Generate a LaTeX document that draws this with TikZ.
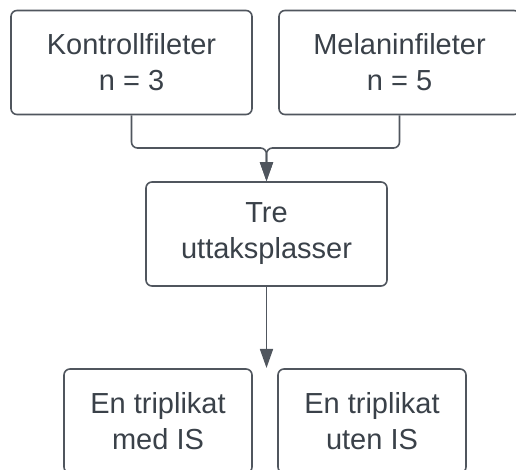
\documentclass[tikz,border=0pt]{standalone}
\usepackage{fontspec}
\setmainfont{Liberation Sans}
\usetikzlibrary{arrows.meta}
\definecolor{txtgray}{HTML}{3A4149}
\definecolor{linegray}{HTML}{50565E}
\tikzset{
  box/.style={draw=linegray, line width=1.6pt, rounded corners=6pt, fill=white,
    minimum width=#1, minimum height=104pt, align=center, text=txtgray,
    font=\fontsize{29}{36}\selectfont, inner sep=0pt},
  box/.default=241pt,
  conn/.style={draw=linegray, line width=1.6pt, rounded corners=6pt,
    -{Triangle[width=13pt,length=19pt]}}
}
\begin{document}
\begin{tikzpicture}[x=1pt,y=1pt]
    \useasboundingbox (0,0) rectangle (516,470);

    % input filters
    \node[box] (kontroll) at (131.5,407.5) {Kontrollfileter\\n = 3};
    \node[box] (melanin) at (399.5,407.5) {Melaninfileter\\n = 5};

    % sampling sites
    \node[box] (uttak) at (266.5,236) {Tre\\uttaksplasser};

    % triplicates
    \node[box=188pt] (medis) at (158,49) {En triplikat\\med IS};
    \node[box=188pt] (utenis) at (372,49) {En triplikat\\uten IS};

    \coordinate (join) at (266.5,322);
    \coordinate (split) at (266.5,102);

    \draw[conn] (kontroll.south) |- (join) -- (uttak.north);
    \draw[conn] (melanin.south) |- (join) -- (uttak.north);
    \draw[conn] (uttak.south) -- (split);
\end{tikzpicture}
\end{document}
